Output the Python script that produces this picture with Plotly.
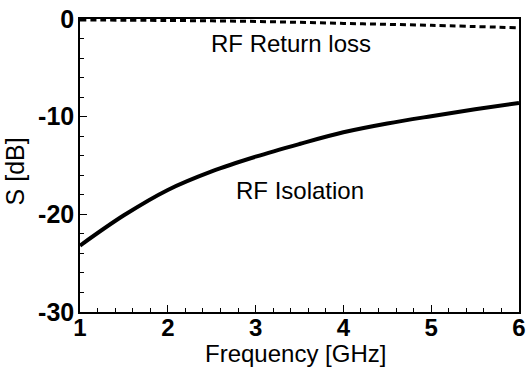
import plotly.graph_objects as go

# Frequency sweep (GHz)
freq_iso = [1.0, 1.5, 2.0, 2.5, 3.0, 3.5, 4.0, 4.5, 5.0, 5.5, 6.0]
# RF isolation (dB)
s_iso = [-23.2, -20.1, -17.5, -15.6, -14.1, -12.8, -11.6, -10.7, -9.95, -9.25, -8.6]

freq_rl = [1.0, 2.0, 3.0, 4.0, 5.0, 6.0]
# RF return loss (dB)
s_rl = [-0.1, -0.15, -0.25, -0.45, -0.65, -0.9]

x_ticks = [1, 2, 3, 4, 5, 6]
y_ticks = [0, -10, -20, -30]

FONT = "Liberation Sans, Arial"

fig = go.Figure()
fig.add_trace(go.Scatter(
    x=freq_iso, y=s_iso, mode="lines",
    line=dict(color="black", width=4, shape="spline", smoothing=1.0),
    showlegend=False,
))
fig.add_trace(go.Scatter(
    x=freq_rl, y=s_rl, mode="lines",
    line=dict(color="black", width=3, dash="6px,4px", shape="spline"),
    showlegend=False,
))

# Curve labels inside the plot
fig.add_annotation(x=3.40, y=-2.5, text="RF Return loss", showarrow=False,
                   font=dict(family=FONT, size=24, color="black"))
fig.add_annotation(x=3.51, y=-17.6, text="RF Isolation", showarrow=False,
                   font=dict(family=FONT, size=24, color="black"))

# Axis titles placed in paper coordinates
fig.add_annotation(xref="paper", yref="paper", x=0.492, y=-0.196,
                   xanchor="center", yanchor="bottom",
                   text="Frequency [GHz]", showarrow=False,
                   font=dict(family=FONT, size=24, color="black"))
fig.add_annotation(xref="paper", yref="paper", x=-0.148, y=0.48,
                   xanchor="center", yanchor="middle", textangle=-90,
                   text="S [dB]", showarrow=False,
                   font=dict(family=FONT, size=25, color="black"))

axis_common = dict(
    showline=True, linecolor="black", linewidth=1.5, mirror=True,
    showgrid=False, zeroline=False, automargin=False,
    ticks="inside", ticklen=7, tickwidth=1.2, tickcolor="black",
    tickfont=dict(family=FONT, size=24, color="black", weight="bold"),
)

fig.update_xaxes(
    range=[1, 6], tickvals=x_ticks, ticktext=[str(v) for v in x_ticks],
    ticklabelstandoff=-7,
    minor=dict(dtick=0.2, ticks="inside", ticklen=4, tickcolor="black", tickwidth=1),
    **axis_common,
)
fig.update_yaxes(
    range=[-30, 0], tickvals=y_ticks, ticktext=[str(v) for v in y_ticks],
    ticklabelstandoff=-1,
    tickfont=dict(family=FONT, size=25, color="black", weight="bold"),
    minor=dict(dtick=2, ticks="inside", ticklen=4, tickcolor="black", tickwidth=1),
    **{k: v for k, v in axis_common.items() if k != "tickfont"},
)

fig.update_layout(
    width=529, height=370,
    margin=dict(l=80, r=10, t=19, b=58),
    plot_bgcolor="white", paper_bgcolor="white",
)

fig.write_html("out.html")
